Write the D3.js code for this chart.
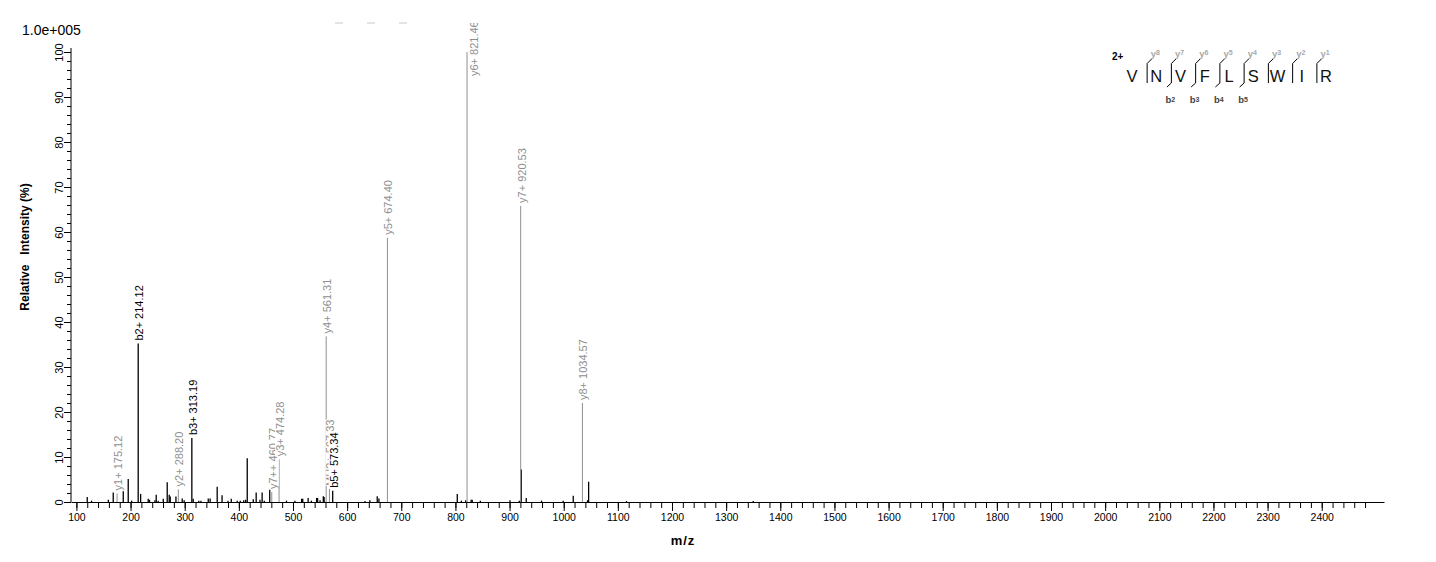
<!DOCTYPE html>
<html>
<head>
<meta charset="utf-8">
<script src="https://cdn.jsdelivr.net/npm/d3@7"></script>
<style>
  body { margin: 0; background: #fff; }
  svg { display: block; font-family: "Liberation Sans", Arial, sans-serif; }
</style>
</head>
<body>
<svg id="chart"></svg>
<script>
const width = 1436;
const height = 562;

// unassigned peaks (m/z, relative intensity %)
const peakMz = [120, 128, 159, 168, 186.5, 195.7, 202, 218.6, 232.6, 235, 245, 247.4, 251, 260.4,
  267.7, 271.4, 273.3, 283.8, 295.4, 299, 315.7, 326, 330, 343.5, 347, 360, 369, 380, 386, 397,
  402.6, 409, 412.5, 415.5, 426.6, 432, 439, 443, 447, 457, 488, 503.5, 516, 518, 528, 534,
  543.6, 545.5, 550, 556, 557.5, 633, 642, 655.6, 658.7, 803.4, 811, 819, 829, 831, 846,
  900.7, 918, 921.6, 930.8, 959, 999, 1017.6, 1044, 1046, 1116, 1350];
const peakInt = [1.1, 0.3, 0.5, 2.1, 2.4, 5.1, 0.3, 1.8, 0.7, 0.5, 0.4, 1.6, 0.3, 0.7,
  4.4, 1.6, 1.2, 1.2, 0.8, 0.4, 0.7, 0.3, 0.3, 0.8, 0.8, 3.4, 1.5, 0.3, 0.7, 0.3,
  0.3, 0.4, 0.5, 9.7, 0.6, 2.1, 0.5, 2.1, 0.3, 2.7, 0.3, 0.3, 0.7, 0.7, 0.9, 0.3,
  0.9, 0.9, 0.4, 1.3, 1.1, 0.2, 0.4, 1.3, 0.8, 1.8, 0.3, 0.4, 0.5, 0.5, 0.3,
  0.4, 0.3, 7.2, 0.9, 0.3, 0.3, 1.4, 0.4, 4.5, 0.2, 0.2];

// assigned fragment ions
const ionMz = [175.12, 214.12, 288.20, 313.19, 460.77, 474.28, 561.31, 567.33, 573.34, 674.40, 821.46, 920.53, 1034.57];
const ionInt = [1.9, 35.2, 2.8, 14.2, 2.2, 9.5, 36.8, 2.9, 2.5, 58.7, 100, 65.8, 22];
const ionName = ["y1+", "b2+", "y2+", "b3+", "y7++", "y3+", "y4+", "MH2+", "b5+", "y5+", "y6+", "y7+", "y8+"];
const ionSeries = ["y", "b", "y", "b", "y", "y", "y", "y", "b", "y", "y", "y", "y"];

// peptide sequence annotation
const seqResidues = ["V", "N", "V", "F", "L", "S", "W", "I", "R"];
const seqYIons = ["8", "7", "6", "5", "4", "3", "2", "1"];
const seqBIons = ["", "2", "3", "4", "5", "", "", ""];

const xMajorTicks = d3.range(100, 2401, 100);
const xMinorTicks = d3.range(100, 2481, 20);
const yMajorTicks = d3.range(0, 101, 10);
const yMinorTicks = d3.range(0, 101, 2);

const grey = "#8f8f8f";
const clipTop = 23;

const svg = d3.select("#chart").attr("width", width).attr("height", height);

svg.append("rect").attr("width", width).attr("height", height).attr("fill", "#fff");

const xScale = d3.scaleLinear().domain([90, 2515]).range([71, 1384]);
const yScale = d3.scaleLinear().domain([0, 100]).range([502, 52]);

// clip for peak labels (the top one gets cut)
svg.append("clipPath").attr("id", "clip")
  .append("rect").attr("x", 0).attr("y", clipTop).attr("width", width).attr("height", height);

// x axis
svg.append("g")
  .attr("transform", `translate(0, ${yScale(0)})`)
  .call(d3.axisBottom(xScale).tickValues(xMinorTicks).tickSize(6).tickFormat("").tickSizeOuter(0))
  .call(g => g.select(".domain").remove());

const xAxis = svg.append("g")
  .attr("transform", `translate(0, ${yScale(0)})`)
  .call(d3.axisBottom(xScale).tickValues(xMajorTicks).tickSize(9).tickFormat(d3.format("d")).tickSizeOuter(0));
xAxis.selectAll("text").attr("font-size", 10.5).attr("font-family", "Liberation Sans, Arial, sans-serif").attr("fill", "#000");

// y axis
svg.append("g")
  .attr("transform", `translate(${xScale.range()[0]}, 0)`)
  .call(d3.axisLeft(yScale).tickValues(yMinorTicks).tickSize(4).tickFormat("").tickSizeOuter(0))
  .call(g => g.select(".domain").remove());

const yAxis = svg.append("g")
  .attr("transform", `translate(${xScale.range()[0]}, 0)`)
  .call(d3.axisLeft(yScale).tickValues(yMajorTicks).tickSize(7).tickSizeOuter(0))
  .call(g => g.select(".domain").remove());
yAxis.selectAll("text")
  .attr("font-size", 11)
  .attr("font-family", "Liberation Sans, Arial, sans-serif")
  .attr("fill", "#000")
  .attr("text-anchor", "middle")
  .attr("transform", "rotate(-90)")
  .attr("x", 0)
  .attr("y", -8)
  .attr("dy", 0);

svg.append("line")
  .attr("x1", xScale.range()[0]).attr("x2", xScale.range()[0])
  .attr("y1", yScale(0)).attr("y2", yScale(100) - 4)
  .attr("stroke", "#000");

svg.selectAll(".tick line").attr("stroke", "#000");
svg.selectAll(".domain").attr("stroke", "#000");

// axis titles
svg.append("text")
  .attr("x", 22).attr("y", 35)
  .attr("font-size", 14)
  .text("1.0e+005");

svg.append("text")
  .attr("transform", "translate(29, 247) rotate(-90)")
  .attr("text-anchor", "middle")
  .attr("font-size", 12)
  .attr("font-weight", "bold")
  .style("white-space", "pre")
  .text("Relative   Intensity (%)");

svg.append("text")
  .attr("x", 683).attr("y", 545)
  .attr("text-anchor", "middle")
  .attr("font-size", 13)
  .attr("font-weight", "bold")
  .attr("letter-spacing", 1)
  .text("m/z");

// faint dashes at the top edge
svg.append("line")
  .attr("x1", 335).attr("x2", 408).attr("y1", 23).attr("y2", 23)
  .attr("stroke", "#c8c8c8").attr("stroke-dasharray", "8 24");

// unassigned peaks
svg.append("g")
  .selectAll("line")
  .data(peakMz)
  .enter()
  .append("line")
  .attr("x1", d => xScale(d)).attr("x2", d => xScale(d))
  .attr("y1", yScale(0))
  .attr("y2", (d, i) => yScale(peakInt[i]))
  .attr("stroke", "#000")
  .attr("stroke-width", 1.3);

// assigned peaks
svg.append("g")
  .selectAll("line")
  .data(ionMz)
  .enter()
  .append("line")
  .attr("x1", d => xScale(d)).attr("x2", d => xScale(d))
  .attr("y1", yScale(0))
  .attr("y2", (d, i) => yScale(ionInt[i]))
  .attr("stroke", (d, i) => ionSeries[i] === "b" ? "#000" : grey)
  .attr("stroke-width", (d, i) => ionSeries[i] === "b" ? 1.3 : 1);

// peak labels, each on a white box, later ones cover earlier ones
const labels = svg.append("g").attr("clip-path", "url(#clip)");
ionMz.forEach((mz, i) => {
  const g = labels.append("g");
  const t = g.append("text")
    .attr("font-size", 11)
    .attr("fill", ionSeries[i] === "b" ? "#000" : grey)
    .text(`${ionName[i]} ${mz.toFixed(2)}`);
  const bb = t.node().getBBox();
  g.insert("rect", "text")
    .attr("x", bb.x).attr("y", bb.y + 1)
    .attr("width", bb.width).attr("height", bb.height - 1)
    .attr("fill", "#fff");

  let lx = xScale(mz) + 5;
  let ly = yScale(ionInt[i]) - 3;
  // no room above the peak: put the label beside the line instead
  if (ly - bb.width < clipTop) {
    lx = xScale(mz) + 11;
    ly = yScale(ionInt[i]) + 24;
  }
  g.attr("transform", `translate(${lx}, ${ly}) rotate(-90)`);
});

// sequence annotation
const seqX = d3.scalePoint().domain(d3.range(seqResidues.length)).range([1132, 1326]);
const seq = svg.append("g");

seq.append("text")
  .attr("x", 1112).attr("y", 60)
  .attr("font-size", 10).attr("font-weight", "bold")
  .text("2+");

seq.selectAll(".res")
  .data(seqResidues)
  .enter()
  .append("text")
  .attr("class", "res")
  .attr("x", (d, i) => seqX(i))
  .attr("y", 81.5)
  .attr("text-anchor", "middle")
  .attr("font-size", 16.5)
  .attr("fill", "#111")
  .text(d => d);

seqYIons.forEach((yi, i) => {
  const bx = (seqX(i) + seqX(i + 1)) / 2 + 3;
  let path = `M${bx + 4.5},59 L${bx},63.5 L${bx},83`;
  if (seqBIons[i]) path += ` L${bx - 4.5},87`;
  seq.append("path")
    .attr("d", path)
    .attr("fill", "none")
    .attr("stroke", "#000")
    .attr("stroke-width", 1);

  const yt = seq.append("text")
    .attr("x", seqX(i + 1) - 1).attr("y", 57)
    .attr("text-anchor", "middle")
    .attr("font-weight", "bold")
    .attr("fill", "#a8a8a8");
  yt.append("tspan").attr("font-size", 9.5).text("y");
  yt.append("tspan").attr("font-size", 7).attr("dy", -2).text(yi);

  if (seqBIons[i]) {
    const bt = seq.append("text")
      .attr("x", bx - 1).attr("y", 103)
      .attr("text-anchor", "middle")
      .attr("font-weight", "bold")
      .attr("fill", "#444");
    bt.append("tspan").attr("font-size", 9.5).text("b");
    bt.append("tspan").attr("font-size", 7).attr("dy", -1).text(seqBIons[i]);
  }
});
</script>
</body>
</html>
